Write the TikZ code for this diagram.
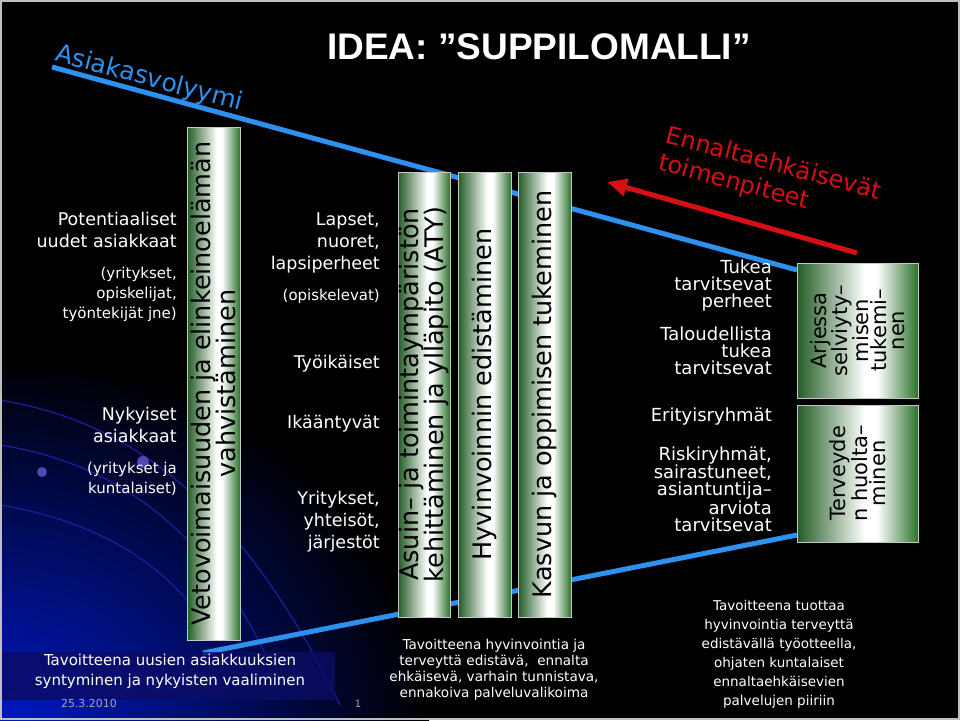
\documentclass[tikz,border=0pt]{standalone}
\usepackage{fontspec}
\usepackage{xcolor}
\setmainfont{DejaVu Sans}
\newfontfamily\titlefont{Liberation Sans}
\usetikzlibrary{arrows.meta}

\definecolor{bargreen}{RGB}{45,115,45}
\definecolor{bardark}{RGB}{35,92,38}
\definecolor{funnelblue}{RGB}{45,145,240}
\definecolor{arrowred}{RGB}{215,15,20}
\definecolor{navyband}{RGB}{12,12,100}
\definecolor{navyarc}{RGB}{30,30,160}
\definecolor{glowblue}{RGB}{0,25,205}

\pgfdeclarehorizontalshading{barshade}{100bp}{color(0bp)=(bardark); color(25bp)=(bardark); color(53bp)=(white); color(58bp)=(white); color(75bp)=(bargreen); color(100bp)=(bargreen)}

\tikzset{
	bar/.style={shade, shading=barshade, draw=gray!45, line width=0.8pt, inner sep=0pt},
	bartext/.style={rotate=90, align=center, text=black, inner sep=0pt, font=\fontsize{25.5}{22}\selectfont},
	smallbartext/.style={bartext, font=\fontsize{21}{18}\selectfont},
	group/.style={text=white, align=right, anchor=base east, inner sep=0pt, font=\fontsize{17.5}{22}\selectfont},
	note/.style={group, font=\fontsize{15}{20}\selectfont},
	need/.style={group, font=\fontsize{18}{17}\selectfont},
	goal/.style={text=white, align=center, anchor=base, inner sep=0pt},
	funnel/.style={draw=funnelblue, line width=5pt},
	curve/.style={draw=navyarc, line width=1.2pt}
}

\begin{document}
\begin{tikzpicture}[x=1pt, y=-1pt]
	\useasboundingbox (0,0) rectangle (960,720);
	% background
	\fill[black] (0,0) rectangle (960,720);
	\begin{scope}
		\clip (0,0) rectangle (960,720);
		\shade[inner color=glowblue, outer color=black] (0,745) ellipse (430pt and 390pt);
	\end{scope}
	\draw[curve] (0,400) .. controls (120,420) and (235,490) .. (340,705);
	\draw[curve] (0,445) .. controls (110,462) and (205,525) .. (268,660);
	\draw[curve] (0,505) .. controls (90,520) and (170,560) .. (215,640);
	\fill[navyarc!80!white] (143,462) circle (6pt);
	\fill[navyarc!80!white] (42,472) circle (5pt);

	% funnel
	\coordinate (topstart) at (52,67);
	\coordinate (topend) at (797,270);
	\coordinate (botstart) at (203,653);
	\coordinate (botend) at (797,535);
	\draw[funnel] (topstart) -- (topend);
	\draw[funnel] (botstart) -- (botend);

	\fill[navyband, opacity=0.8] (0,652) rectangle (335,700);

	% title and side labels
	\node (title) at (539,47) {\titlefont\bfseries\fontsize{37}{40}\selectfont\color{white}IDEA: ”SUPPILOMALLI”};
	\node[rotate=-15, text=funnelblue, font=\fontsize{25}{28}\selectfont, inner sep=0pt] (volume) at (149,79) {Asiakasvolyymi};
	\node[rotate=-15, text=arrowred, font=\fontsize{24}{28}\selectfont, align=left, inner sep=0pt] (prevent) at (770,178) {Ennaltaehkäisevät\\toimenpiteet};
	\coordinate (arrowstart) at (857,253);
	\coordinate (arrowtip) at (607,182);
	\draw[arrowred, line width=5pt, -{Triangle[length=20pt, width=17pt]}] (arrowstart) -- (arrowtip);

	% bars
	\node[bar, minimum width=53pt, minimum height=513pt] (attract) at (213.5,383.5) {};
	\node[bartext] (attracttext) at (attract.center) {Vetovoimaisuuden ja elinkeinoelämän\\vahvistäminen};
	\node[bar, minimum width=52pt, minimum height=445pt] (environment) at (424,394.5) {};
	\node[bartext] (environmenttext) at (environment.center) {Asuin– ja toimintaympäristön\\kehittäminen ja ylläpito (ATY)};
	\node[bar, minimum width=53pt, minimum height=445pt] (wellbeing) at (484.5,394.5) {};
	\node[bartext] (wellbeingtext) at (wellbeing.center) {Hyvinvoinnin edistäminen};
	\node[bar, minimum width=53pt, minimum height=445pt] (learning) at (544.5,394.5) {};
	\node[bartext] (learningtext) at (learning.center) {Kasvun ja oppimisen tukeminen};
	\node[bar, minimum width=121pt, minimum height=135pt] (everyday) at (857.5,330.5) {};
	\node[smallbartext] (everydaytext) at (everyday.center) {Arjessa\\selviyty–\\misen\\tukemi–\\nen};
	\node[bar, minimum width=121pt, minimum height=137pt] (health) at (857.5,473.5) {};
	\node[smallbartext] (healthtext) at (health.center) {Terveyde\\n huolta–\\minen};

	% customer groups
	\node[group] (potential) at (177,247) {Potentiaaliset\\uudet asiakkaat};
	\node[note] (potentialex) at (177,318) {(yritykset,\\opiskelijat,\\työntekijät jne)};
	\node[group] (current) at (177,442) {Nykyiset\\asiakkaat};
	\node[note] (currentex) at (177,493) {(yritykset ja\\kuntalaiset)};

	\node[group] (children) at (380,269) {Lapset,\\nuoret,\\lapsiperheet};
	\node[note] (students) at (380,300) {(opiskelevat)};
	\node[group] (working) at (380,368) {Työikäiset};
	\node[group] (ageing) at (380,428) {Ikääntyvät};
	\node[group] (companies) at (380,548) {Yritykset,\\yhteisöt,\\järjestöt};

	\node[need] (families) at (772,307) {Tukea\\tarvitsevat\\perheet};
	\node[need] (economic) at (772,374) {Taloudellista\\tukea\\tarvitsevat};
	\node[need] (special) at (772,421) {Erityisryhmät};
	\node[need] (risk) at (772,531) {Riskiryhmät,\\sairastuneet,\\asiantuntija–\\arviota\\tarvitsevat};

	% goals
	\node[goal, font=\fontsize{15}{20}\selectfont] (goalleft) at (170,685) {Tavoitteena uusien asiakkuuksien\\syntyminen ja nykyisten vaaliminen};
	\node[goal, font=\fontsize{13.6}{15.7}\selectfont] (goalmid) at (494,697) {Tavoitteena hyvinvointia ja\\terveyttä edistävä,\ \ ennalta\\ehkäisevä, varhain tunnistava,\\ennakoiva palveluvalikoima};
	\node[goal, font=\fontsize{13.5}{19}\selectfont] (goalright) at (779,705) {Tavoitteena tuottaa\\hyvinvointia terveyttä\\edistävällä työotteella,\\ohjaten kuntalaiset\\ennaltaehkäisevien\\palvelujen piiriin};

	\node[goal, text=gray!70!white, font=\fontsize{11}{12}\selectfont] (date) at (89,707) {25.3.2010};
	\node[goal, text=gray!70!white, font=\fontsize{10}{12}\selectfont] (slidenum) at (358,707) {1};

	\draw[gray!50, line width=2pt] (1,1) rectangle (959,719);
\end{tikzpicture}
\end{document}
